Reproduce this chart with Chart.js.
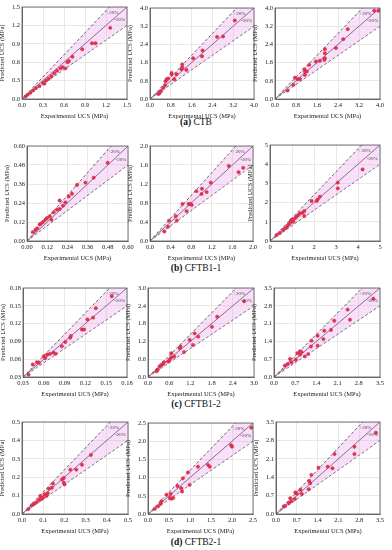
<!DOCTYPE html>
<html>
<head>
<meta charset="utf-8">
<script src="https://cdn.jsdelivr.net/npm/chart.js@4.4.1/dist/chart.umd.min.js"></script>
<style>
body { margin: 0; background: #fff; width: 392px; height: 550px; position: relative; overflow: hidden; font-family: "Liberation Serif", "Times New Roman", serif; }
canvas { position: absolute; }
.cap { position: absolute; left: 0; width: 392px; text-align: center; font-size: 9.5px; line-height: 10px; color: #111; }
</style>
</head>
<body>
<div class="cap" style="top:117px"><b>(a)</b> CTB</div>
<div class="cap" style="top:263px"><b>(b)</b> CFTB1-1</div>
<div class="cap" style="top:399px"><b>(c)</b> CFTB1-2</div>
<div class="cap" style="top:537px"><b>(d)</b> CFTB2-1</div>
<script>
// (a) CTB
const a1Ticks = [0, 0.3, 0.6, 0.9, 1.2, 1.5];
const a1X = [0.05, 0.08, 0.12, 0.16, 0.2, 0.25, 0.3, 0.32, 0.34, 0.38, 0.42, 0.46, 0.5, 0.55, 0.58, 0.62, 0.65, 0.67, 0.72, 0.86, 1.0, 1.05, 1.26];
const a1Y = [0.04, 0.07, 0.1, 0.14, 0.18, 0.21, 0.26, 0.25, 0.3, 0.33, 0.37, 0.42, 0.46, 0.5, 0.52, 0.5, 0.6, 0.62, 0.69, 0.81, 0.91, 0.91, 1.16];

const a2Ticks = [0, 0.8, 1.6, 2.4, 3.2, 4.0];
const a2X = [0.32, 0.36, 0.42, 0.51, 0.58, 0.6, 0.64, 0.7, 0.83, 0.83, 0.93, 1.02, 1.21, 1.24, 1.24, 1.4, 1.66, 2.02, 2.0, 2.58, 2.81, 3.26];
const a2Y = [0.22, 0.25, 0.34, 0.49, 0.6, 0.78, 0.87, 0.9, 1.09, 1.15, 0.87, 1.09, 1.31, 1.52, 1.39, 1.28, 1.79, 2.13, 1.88, 2.73, 2.75, 3.45];

const a3Ticks = [0, 0.8, 1.6, 2.4, 3.2, 4.0];
const a3X = [0.48, 0.7, 0.76, 0.86, 0.95, 1.12, 1.14, 1.14, 1.21, 1.3, 1.56, 1.71, 1.88, 1.9, 1.9, 1.9, 2.32, 2.6, 2.77, 3.78, 3.94];
const a3Y = [0.37, 0.62, 0.94, 0.87, 0.88, 1.31, 1.21, 1.06, 1.21, 1.5, 1.65, 1.68, 1.72, 2.19, 2.01, 1.79, 2.24, 2.63, 3.07, 3.88, 3.88];

// (b) CFTB1-1
const b1Ticks = [0, 0.12, 0.24, 0.36, 0.48, 0.6];
const b1X = [0.034, 0.05, 0.06, 0.075, 0.083, 0.095, 0.109, 0.119, 0.135, 0.145, 0.158, 0.178, 0.194, 0.194, 0.214, 0.228, 0.248, 0.267, 0.297, 0.347, 0.396, 0.479];
const b1Y = [0.056, 0.07, 0.08, 0.104, 0.11, 0.12, 0.135, 0.145, 0.156, 0.135, 0.181, 0.198, 0.202, 0.256, 0.223, 0.244, 0.281, 0.298, 0.354, 0.369, 0.4, 0.494];

const b2Ticks = [0, 0.4, 0.8, 1.2, 1.6, 2.0];
const b2X = [0.28, 0.35, 0.37, 0.5, 0.52, 0.63, 0.71, 0.75, 0.78, 0.81, 0.9, 1.0, 1.01, 1.1, 1.18, 1.53, 1.72, 1.81];
const b2Y = [0.2, 0.3, 0.43, 0.52, 0.43, 0.78, 0.63, 0.78, 0.78, 0.76, 1.05, 0.99, 1.1, 1.03, 1.23, 1.58, 1.45, 1.54];

const b3Ticks = [0, 1, 2, 3, 4, 5];
const b3X = [0.3, 0.45, 0.6, 0.68, 0.75, 0.83, 0.9, 0.95, 1.0, 1.06, 1.14, 1.2, 1.29, 1.36, 1.47, 1.56, 1.56, 1.89, 2.12, 2.17, 2.27, 3.08, 3.08, 4.21];
const b3Y = [0.31, 0.42, 0.57, 0.66, 0.72, 0.83, 0.92, 1.06, 1.12, 1.0, 1.18, 1.27, 1.35, 1.44, 1.47, 1.56, 1.3, 2.08, 2.08, 2.17, 2.31, 3.04, 2.74, 3.73];

// (c) CFTB1-2
const c1Ticks = [0.03, 0.06, 0.09, 0.12, 0.15, 0.18];
const c1X = [0.038, 0.044, 0.05, 0.053, 0.06, 0.062, 0.065, 0.069, 0.074, 0.077, 0.086, 0.091, 0.098, 0.099, 0.115, 0.118, 0.123, 0.131, 0.135, 0.158];
const c1Y = [0.034, 0.051, 0.055, 0.054, 0.065, 0.062, 0.068, 0.069, 0.071, 0.069, 0.082, 0.089, 0.096, 0.099, 0.11, 0.11, 0.127, 0.13, 0.146, 0.166];

const c2Ticks = [0, 0.6, 1.2, 1.8, 2.4, 3.0];
const c2X = [0.24, 0.28, 0.33, 0.38, 0.42, 0.45, 0.57, 0.61, 0.66, 0.66, 0.74, 0.9, 0.92, 1.02, 1.18, 1.27, 1.32, 1.42, 1.81, 1.96, 2.72];
const c2Y = [0.19, 0.25, 0.36, 0.41, 0.43, 0.5, 0.52, 0.58, 0.8, 0.66, 0.69, 0.97, 1.03, 0.84, 1.25, 1.08, 1.47, 1.36, 1.69, 2.03, 2.55];

const c3Ticks = [0, 0.7, 1.4, 2.1, 2.8, 3.5];
const c3X = [0.36, 0.45, 0.53, 0.58, 0.72, 0.77, 0.86, 0.86, 0.91, 1.02, 1.13, 1.22, 1.24, 1.44, 1.44, 1.63, 1.66, 1.88, 1.99, 2.43, 2.51, 3.28];
const c3Y = [0.45, 0.51, 0.71, 0.58, 0.68, 0.94, 1.01, 0.88, 0.98, 0.81, 0.9, 1.2, 1.43, 1.62, 1.23, 1.49, 1.82, 1.85, 2.21, 2.65, 2.25, 3.08];

// (d) CFTB2-1
const d1Ticks = [0, 0.1, 0.2, 0.3, 0.4, 0.5];
const d1X = [0.03, 0.047, 0.055, 0.068, 0.079, 0.086, 0.09, 0.099, 0.107, 0.115, 0.121, 0.126, 0.141, 0.146, 0.189, 0.197, 0.197, 0.201, 0.228, 0.256, 0.283, 0.325];
const d1Y = [0.027, 0.048, 0.054, 0.063, 0.077, 0.098, 0.08, 0.089, 0.107, 0.098, 0.113, 0.138, 0.143, 0.166, 0.188, 0.196, 0.17, 0.161, 0.241, 0.241, 0.268, 0.321];

const d2Ticks = [0, 0.5, 1.0, 1.5, 2.0, 2.5];
const d2X = [0.16, 0.24, 0.3, 0.32, 0.44, 0.52, 0.54, 0.56, 0.6, 0.7, 0.79, 0.81, 0.83, 0.95, 0.99, 1.19, 1.43, 1.47, 1.98, 2.0, 2.46];
const d2Y = [0.14, 0.21, 0.28, 0.35, 0.53, 0.44, 0.55, 0.42, 0.44, 0.77, 0.71, 0.62, 0.98, 1.14, 0.8, 1.3, 1.35, 1.3, 1.89, 1.85, 2.37];

const d3Ticks = [0, 0.7, 1.4, 2.1, 2.8, 3.5];
const d3X = [0.26, 0.31, 0.43, 0.48, 0.51, 0.63, 0.65, 0.7, 0.82, 0.87, 1.1, 1.12, 1.15, 1.19, 1.43, 1.74, 1.9, 1.97, 2.64, 2.64, 3.36];
const d3Y = [0.29, 0.31, 0.42, 0.6, 0.48, 0.57, 0.82, 0.77, 0.92, 0.76, 0.94, 1.26, 1.17, 1.49, 1.76, 1.8, 1.74, 2.28, 2.56, 2.28, 3.09];

const serif = '"Liberation Serif", "Times New Roman", serif';
const fontSm = { family: serif, size: 6.5 };
const padL = 24, padT = 6, padR = 8, padB = 22;

// plot area boxes [left, top, right, bottom]
const panels = [
    { box: [22, 7, 127, 99], ticks: a1Ticks, x: a1X, y: a1Y, dec: 1 },
    { box: [150, 8, 254, 99], ticks: a2Ticks, x: a2X, y: a2Y, dec: 1 },
    { box: [275, 8, 380, 99], ticks: a3Ticks, x: a3X, y: a3Y, dec: 1 },
    { box: [27, 146, 128, 241], ticks: b1Ticks, x: b1X, y: b1Y, dec: 2 },
    { box: [150, 146, 253, 241], ticks: b2Ticks, x: b2X, y: b2Y, dec: 1 },
    { box: [270, 145, 380, 241], ticks: b3Ticks, x: b3X, y: b3Y, dec: 0 },
    { box: [23, 288, 127, 377], ticks: c1Ticks, x: c1X, y: c1Y, dec: 2 },
    { box: [148, 288, 254, 377], ticks: c2Ticks, x: c2X, y: c2Y, dec: 1 },
    { box: [274, 288, 380, 377], ticks: c3Ticks, x: c3X, y: c3Y, dec: 1 },
    { box: [22, 422, 128, 514], ticks: d1Ticks, x: d1X, y: d1Y, dec: 1 },
    { box: [148, 423, 253, 514], ticks: d2Ticks, x: d2X, y: d2Y, dec: 1 },
    { box: [276, 422, 380, 514], ticks: d3Ticks, x: d3X, y: d3Y, dec: 1 }
];

const framePlugin = {
    id: 'frame',
    afterDatasetsDraw(chart) {
        const { ctx, chartArea: a } = chart;
        const xs = chart.scales.x, ys = chart.scales.y;
        const lo = xs.min, hi = xs.max, r = hi - lo;
        ctx.save();
        ctx.strokeStyle = '#555';
        ctx.lineWidth = 0.8;
        ctx.strokeRect(a.left, a.top, a.right - a.left, a.bottom - a.top);
        ctx.fillStyle = '#444';
        ctx.font = '5px ' + serif;
        ctx.textAlign = 'center';
        ctx.textBaseline = 'middle';
        ctx.fillText('+20%', xs.getPixelForValue(lo + 0.86 * r), ys.getPixelForValue(hi - 0.06 * r));
        ctx.fillText('-20%', xs.getPixelForValue(lo + 0.93 * r), ys.getPixelForValue(hi - 0.14 * r));
        ctx.restore();
    }
};

function makePanel(p) {
    const cv = document.createElement('canvas');
    const w = p.box[2] - p.box[0] + padL + padR;
    const h = p.box[3] - p.box[1] + padT + padB;
    cv.width = w;
    cv.height = h;
    cv.style.width = w + 'px';
    cv.style.height = h + 'px';
    cv.style.left = (p.box[0] - padL) + 'px';
    cv.style.top = (p.box[1] - padT) + 'px';
    document.body.appendChild(cv);

    const lo = p.ticks[0], hi = p.ticks[p.ticks.length - 1];
    const pts = p.x.map((v, i) => ({ x: v, y: p.y[i] }));

    const axis = (title, isY) => ({
        type: 'linear',
        min: lo,
        max: hi,
        afterBuildTicks: s => { s.ticks = p.ticks.map(v => ({ value: v })); },
        afterFit: s => { if (isY) s.width = padL; else s.height = padB; },
        ticks: {
            callback: v => Number(v).toFixed(p.dec),
            font: fontSm, color: '#222', padding: 2, maxRotation: 0, autoSkip: false
        },
        grid: { color: '#d9d9d9', lineWidth: 0.6, drawTicks: false },
        border: { color: '#555', width: 0.8 },
        title: { display: true, text: title, font: fontSm, color: '#222', padding: { top: 0, bottom: 1 } }
    });

    new Chart(cv, {
        type: 'scatter',
        data: {
            datasets: [
                { data: pts, pointRadius: 1.7, pointBackgroundColor: '#e8314f', pointBorderColor: '#c8203e', pointBorderWidth: 0.4 },
                { type: 'line', data: [{ x: lo, y: lo }, { x: hi, y: hi }], borderColor: '#8e6a8e', borderWidth: 1, pointRadius: 0 },
                {
                    type: 'line', data: [{ x: lo, y: lo }, { x: hi, y: lo + 1.2 * (hi - lo) }],
                    borderColor: '#444', borderDash: [3, 2], borderWidth: 0.8, pointRadius: 0,
                    fill: '+1', backgroundColor: 'rgba(238,160,238,0.33)'
                },
                { type: 'line', data: [{ x: lo, y: lo }, { x: hi, y: lo + 0.8 * (hi - lo) }], borderColor: '#444', borderDash: [3, 2], borderWidth: 0.8, pointRadius: 0 }
            ]
        },
        options: {
            responsive: false,
            animation: false,
            devicePixelRatio: 1,
            layout: { padding: { left: 0, top: padT, right: padR, bottom: 0 } },
            plugins: { legend: { display: false }, tooltip: { enabled: false } },
            scales: {
                x: axis('Experimental UCS (MPa)', false),
                y: axis('Predicted UCS (MPa)', true)
            }
        },
        plugins: [framePlugin]
    });
}

panels.forEach(makePanel);
</script>
</body>
</html>
